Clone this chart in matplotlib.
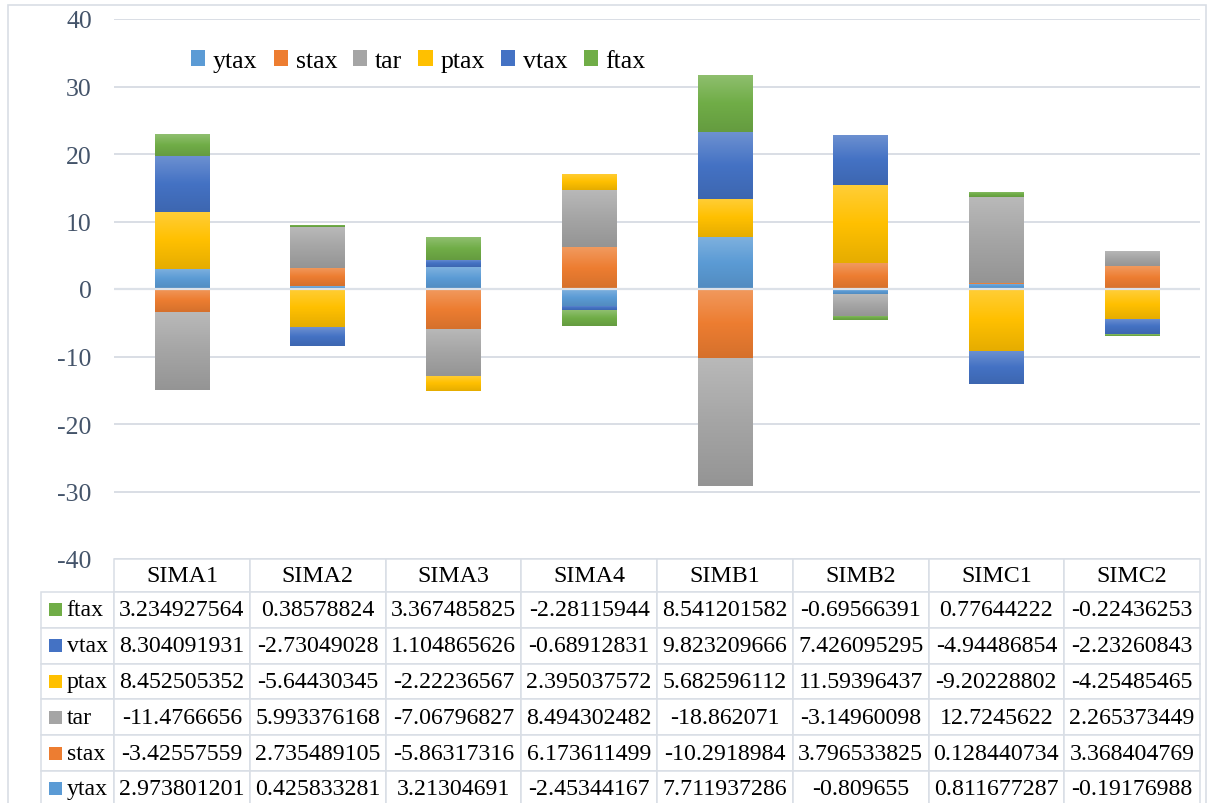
import numpy as np
import matplotlib
matplotlib.use("Agg")
import matplotlib.pyplot as plt
import matplotlib.colors as mcolors
from matplotlib.patches import Rectangle, Patch
from matplotlib.table import Table

plt.rcParams.update({
    'font.family': ['Liberation Serif', 'DejaVu Serif'],
    'font.size': 17,
    'axes.unicode_minus': False,
})

W, H = 1208, 804

categories = ["SIMA1", "SIMA2", "SIMA3", "SIMA4", "SIMB1", "SIMB2", "SIMC1", "SIMC2"]
series_names = ["ytax", "stax", "tar", "ptax", "vtax", "ftax"]
series_colors = ["#5B9BD5", "#ED7D31", "#A5A5A5", "#FFC000", "#4472C4", "#70AD47"]

ytax = [2.973801201, 0.425833281, 3.21304691, -2.45344167, 7.711937286, -0.809655, 0.811677287, -0.19176988]
stax = [-3.42557559, 2.735489105, -5.86317316, 6.173611499, -10.2918984, 3.796533825, 0.128440734, 3.368404769]
tar = [-11.4766656, 5.993376168, -7.06796827, 8.494302482, -18.862071, -3.14960098, 12.7245622, 2.265373449]
ptax = [8.452505352, -5.64430345, -2.22236567, 2.395037572, 5.682596112, 11.59396437, -9.20228802, -4.25485465]
vtax = [8.304091931, -2.73049028, 1.104865626, -0.68912831, 9.823209666, 7.426095295, -4.94486854, -2.23260843]
ftax = [3.234927564, 0.38578824, 3.367485825, -2.28115944, 8.541201582, -0.69566391, 0.77644222, -0.22436253]

series_values = [ytax, stax, tar, ptax, vtax, ftax]


def px(x, y):
    # pixel position (from top-left) -> figure fraction
    return x / W, 1 - y / H


def gradient_for(color):
    base = np.array(mcolors.to_rgb(color))
    light = base + (1 - base) * 0.22
    dark = base * 0.9
    t = np.linspace(0, 1, 64)[:, None]
    top_half = light + (base - light) * np.clip(t * 2, 0, 1)
    bottom_half = base + (dark - base) * np.clip(t * 2 - 1, 0, 1)
    rgb = np.where(t < 0.5, top_half, bottom_half)
    return rgb[:, None, :]


fig = plt.figure(figsize=(W / 100, H / 100), dpi=100)
fig.patch.set_facecolor("white")

# outer chart border
fig.add_artist(Rectangle(px(8, 810), 1198 / W, 804 / H, transform=fig.transFigure,
                         facecolor="none", edgecolor="#D9DEE5", linewidth=1.2))

left, top = px(114, 20)
right, bottom = px(1200, 560)
ax = fig.add_axes([left, bottom, right - left, top - bottom])

x = np.arange(len(categories))
bar_width = 0.4
pos_bottom = np.zeros(len(categories))
neg_bottom = np.zeros(len(categories))

for name, color, vals in zip(series_names, series_colors, series_values):
    vals = np.array(vals)
    base = np.where(vals >= 0, pos_bottom, neg_bottom)
    bars = ax.bar(x, vals, bar_width, bottom=base, color=color, zorder=2, linewidth=0)
    grad = gradient_for(color)
    for rect in bars:
        x0 = rect.get_x()
        y0 = rect.get_y()
        h = rect.get_height()
        y_lo, y_hi = min(y0, y0 + h), max(y0, y0 + h)
        im = ax.imshow(grad, extent=[x0, x0 + rect.get_width(), y_lo, y_hi],
                       aspect="auto", origin="upper", zorder=2.5, interpolation="bilinear")
        im.set_clip_path(rect)
    pos_bottom = pos_bottom + np.where(vals >= 0, vals, 0)
    neg_bottom = neg_bottom + np.where(vals < 0, vals, 0)

ax.set_xlim(-0.5, len(categories) - 0.5)
ax.set_ylim(-40, 40)
ax.set_yticks(np.arange(-40, 41, 10))
ax.set_xticks([])
ax.tick_params(axis="y", length=0, pad=16, labelsize=18.5, labelcolor="#44546A")
ax.grid(axis="y", color="#D9DEE5", linewidth=1.4, zorder=0)
ax.set_axisbelow(True)
ax.axhline(0, color="#DCE1E8", linewidth=1.6, zorder=4)
for s in ax.spines.values():
    s.set_visible(False)

# legend
handles = [Patch(facecolor=c, edgecolor="none") for c in series_colors]
fig.legend(handles, series_names, loc="center left", bbox_to_anchor=px(191, 62),
           ncol=6, frameon=False, fontsize=18.6, handlelength=0.55, handleheight=0.55,
           handletextpad=0.3, columnspacing=0.62, borderpad=0, borderaxespad=0)

# data table (sizes in axes fractions: axes is 1086 x 540 px)
ax_w, ax_h = 1086.0, 540.0
label_w = 73.0 / ax_w
col_w = 1.0 / len(categories)
head_h, row_h = 33.0 / ax_h, 35.8 / ax_h
table_rows = list(zip(series_names, series_colors, series_values))[::-1]
total_h = head_h + row_h * len(table_rows)
tbl = Table(ax, bbox=[0, -total_h, 1.0, total_h])
edge = "#D9DEE5"
for j, cat in enumerate(categories):
    tbl.add_cell(0, j, col_w, head_h, text=cat, loc="center", facecolor="white", edgecolor=edge)
for i, (name, color, vals) in enumerate(table_rows, start=1):
    c = tbl.add_cell(i, -1, label_w, row_h, text=name, loc="left", facecolor="white", edgecolor=edge)
    c.PAD = 0.35
    for j, v in enumerate(vals):
        tbl.add_cell(i, j, col_w, row_h, text=str(v), loc="center", facecolor="white", edgecolor=edge)
tbl.auto_set_font_size(False)
tbl.set_fontsize(17.2)
for cell in tbl.get_celld().values():
    cell.set_linewidth(1.1)
tbl.set_clip_on(False)
ax.add_table(tbl)

# colour keys inside the row label cells
for i, (name, color, vals) in enumerate(table_rows):
    yc = 593 + 35.8 * (i + 0.5)
    fig.add_artist(Rectangle(px(49, yc + 6.5), 13 / W, 13 / H, transform=fig.transFigure,
                             facecolor=color, edgecolor="none"))

fig.savefig("out.png", dpi=100, facecolor="white")
